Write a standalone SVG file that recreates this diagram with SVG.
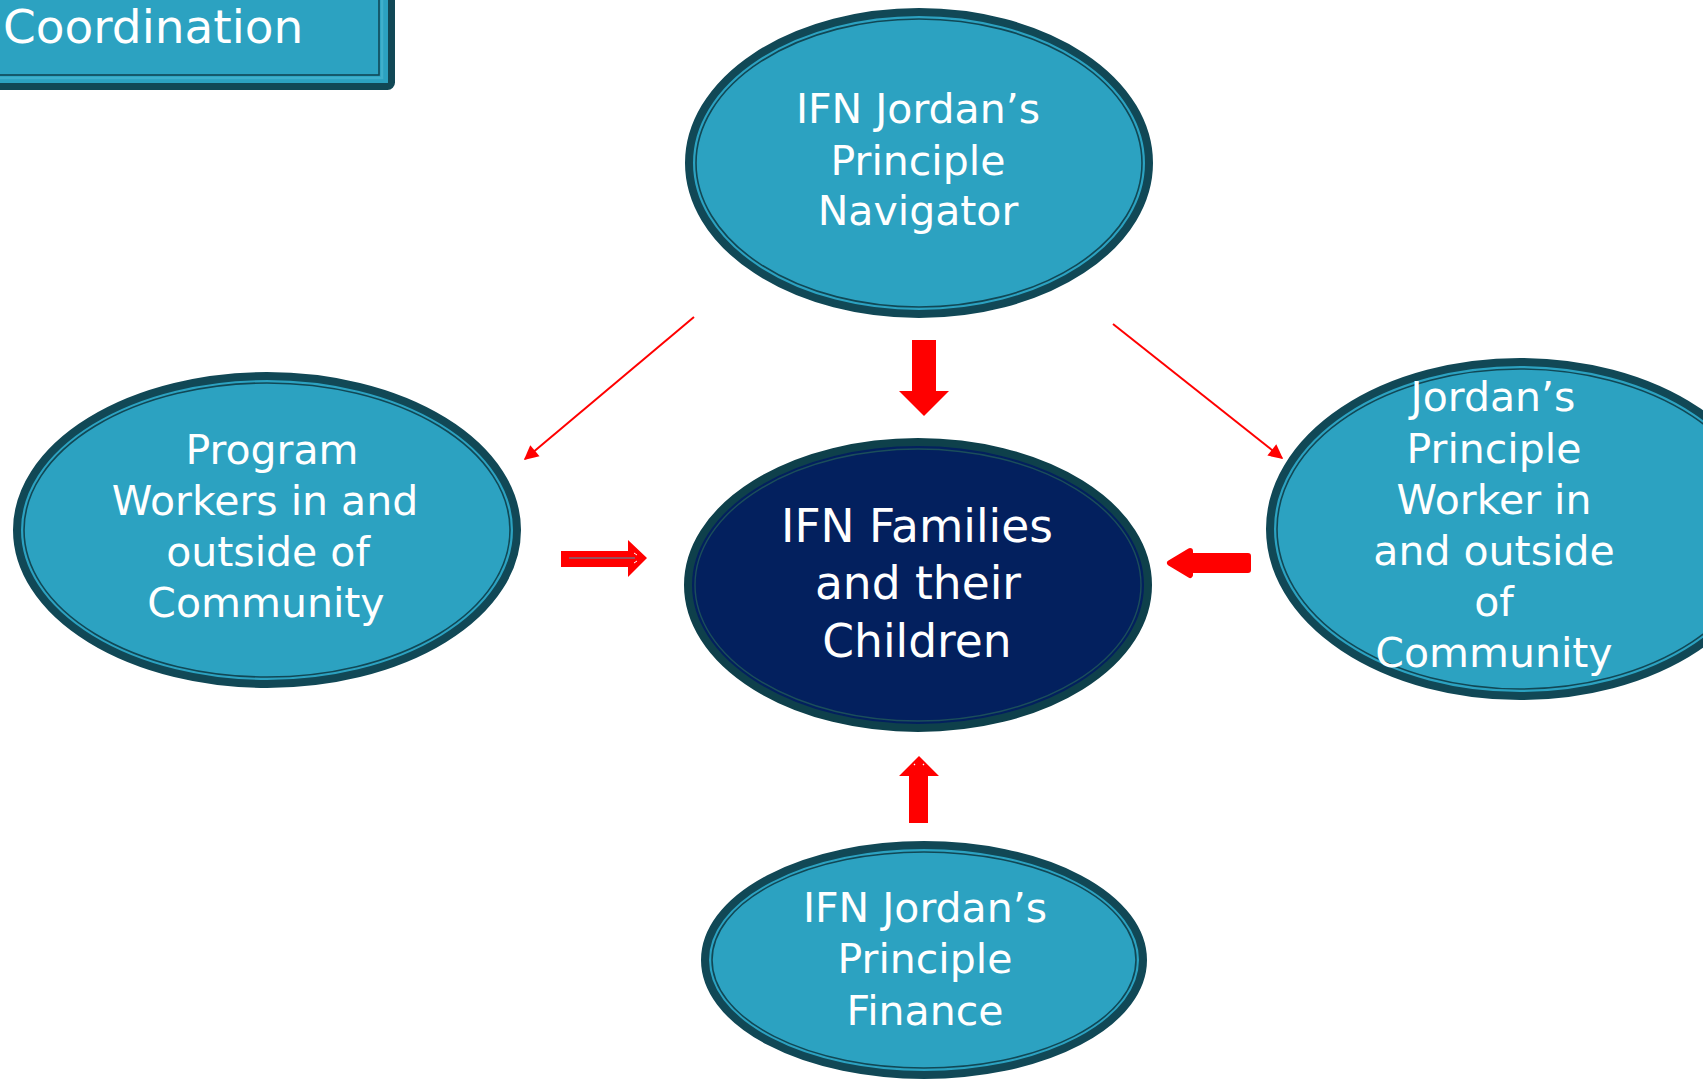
<svg xmlns="http://www.w3.org/2000/svg" width="1703" height="1081" viewBox="0 0 1703 1081">
  <defs>
    <style>
      .node-outer { fill: #2CA2C1; stroke: #114856; stroke-width: 8; }
      .node-inner { fill: none; stroke: #114856; stroke-width: 1.6; }
      .hub-outer { fill: #03205E; stroke: #0E404B; stroke-width: 8; }
      .hub-inner { fill: none; stroke: #1B4E5A; stroke-width: 1.4; }
      .label { font-family: "DejaVu Sans", "Liberation Sans", sans-serif; fill: #FFFFFF; text-anchor: middle; }
      .title { font-family: "DejaVu Sans", "Liberation Sans", sans-serif; fill: #FFFFFF; font-size: 47px; }
      .block { fill: #FF0000; }
      .thin { stroke: #FF0000; stroke-width: 2; fill: none; }
    </style>
    <marker id="tip" viewBox="0 0 10 10" refX="9" refY="5" markerWidth="8" markerHeight="8" markerUnits="userSpaceOnUse" orient="auto" overflow="visible">
      <path d="M0,0 L10,5 L0,10 Z" fill="#FF0000" transform="scale(1.8) translate(-4,-2.2)"/>
    </marker>
  </defs>

  <rect width="1703" height="1081" fill="#FFFFFF"/>

  <!-- Heading box -->
  <g id="title">
    <rect x="-20" y="-20" width="411.5" height="106.5" rx="4" fill="#2CA2C1" stroke="#114856" stroke-width="7"/>
    <rect x="-20" y="-20" width="402" height="98" fill="none" stroke="#3FB0CC" stroke-width="2.5"/>
    <rect x="-20" y="-20" width="399" height="95" fill="none" stroke="#114856" stroke-width="1.6"/>
    <text class="title" x="3" y="43">Coordination</text>
  </g>

  <!-- Connectors -->
  <g id="connectors">
    <line class="thin" x1="694" y1="317" x2="525" y2="459" marker-end="url(#tip)"/>
    <line class="thin" x1="1113" y1="324" x2="1282" y2="458" marker-end="url(#tip)"/>
    <!-- block arrow down from navigator -->
    <path class="block" d="M912,340 L936,340 L936,391 L949,391 L924,416 L899,391 L912,391 Z"/>
    <!-- block arrow right from program workers -->
    <path class="block" d="M561,551 L628,551 L628,540 L647,558 L628,577 L628,567 L561,567 Z"/>
    <line x1="569" y1="558" x2="635" y2="558" stroke="#7A6A7A" stroke-width="1.6"/>
    <path d="M634,553 l3,2 M634,563 l3,-2" stroke="#FFFFFF" stroke-width="1"/>
    <!-- rounded block arrow left from worker -->
    <path class="block" d="M1248,556 L1190,556 L1190,551 L1170,563 L1190,575 L1190,570 L1248,570 Z" stroke="#FF0000" stroke-width="6" stroke-linejoin="round"/>
    <!-- block arrow up from finance -->
    <path class="block" d="M909,823 L928,823 L928,776 L939,776 L919,756 L899,776 L909,776 Z"/>
    <path d="M914,764 l1,1 M923,764 l1,1" stroke="#FFFFFF" stroke-width="1.2"/>
  </g>

  <!-- Navigator -->
  <g id="navigator">
    <ellipse class="node-outer" cx="919" cy="163" rx="230" ry="151"/>
    <ellipse class="node-inner" cx="919" cy="163" rx="223" ry="144"/>
    <text class="label" font-size="41" x="918" y="123">IFN Jordan’s</text>
    <text class="label" font-size="41" x="918" y="175">Principle</text>
    <text class="label" font-size="41" x="918" y="225">Navigator</text>
  </g>

  <!-- Families (hub) -->
  <g id="families">
    <ellipse class="hub-outer" cx="918" cy="585" rx="230" ry="143"/>
    <ellipse class="hub-inner" cx="918" cy="585" rx="223" ry="136"/>
    <text class="label" font-size="45.5" x="917" y="542">IFN Families</text>
    <text class="label" font-size="45.5" x="918" y="599">and their</text>
    <text class="label" font-size="45.5" x="917" y="657">Children</text>
  </g>

  <!-- Program workers -->
  <g id="program-workers">
    <ellipse class="node-outer" cx="267" cy="530" rx="250" ry="154"/>
    <ellipse class="node-inner" cx="267" cy="530" rx="243" ry="147"/>
    <text class="label" font-size="41" x="272" y="464">Program</text>
    <text class="label" font-size="41" x="265" y="515">Workers in and</text>
    <text class="label" font-size="41" x="268" y="566">outside of</text>
    <text class="label" font-size="41" x="266" y="617">Community</text>
  </g>

  <!-- Jordan's Principle worker -->
  <g id="jp-worker">
    <ellipse class="node-outer" cx="1520" cy="529" rx="250" ry="167"/>
    <ellipse class="node-inner" cx="1520" cy="529" rx="243" ry="160"/>
    <text class="label" font-size="41" x="1493" y="411">Jordan’s</text>
    <text class="label" font-size="41" x="1494" y="463">Principle</text>
    <text class="label" font-size="41" x="1494" y="514">Worker in</text>
    <text class="label" font-size="41" x="1494" y="565">and outside</text>
    <text class="label" font-size="41" x="1494" y="616">of</text>
    <text class="label" font-size="41" x="1494" y="667">Community</text>
  </g>

  <!-- Finance -->
  <g id="finance">
    <ellipse class="node-outer" cx="924" cy="960" rx="219" ry="115"/>
    <ellipse class="node-inner" cx="924" cy="960" rx="212" ry="108"/>
    <text class="label" font-size="41" x="925" y="922">IFN Jordan’s</text>
    <text class="label" font-size="41" x="925" y="973">Principle</text>
    <text class="label" font-size="41" x="925" y="1025">Finance</text>
  </g>
</svg>
